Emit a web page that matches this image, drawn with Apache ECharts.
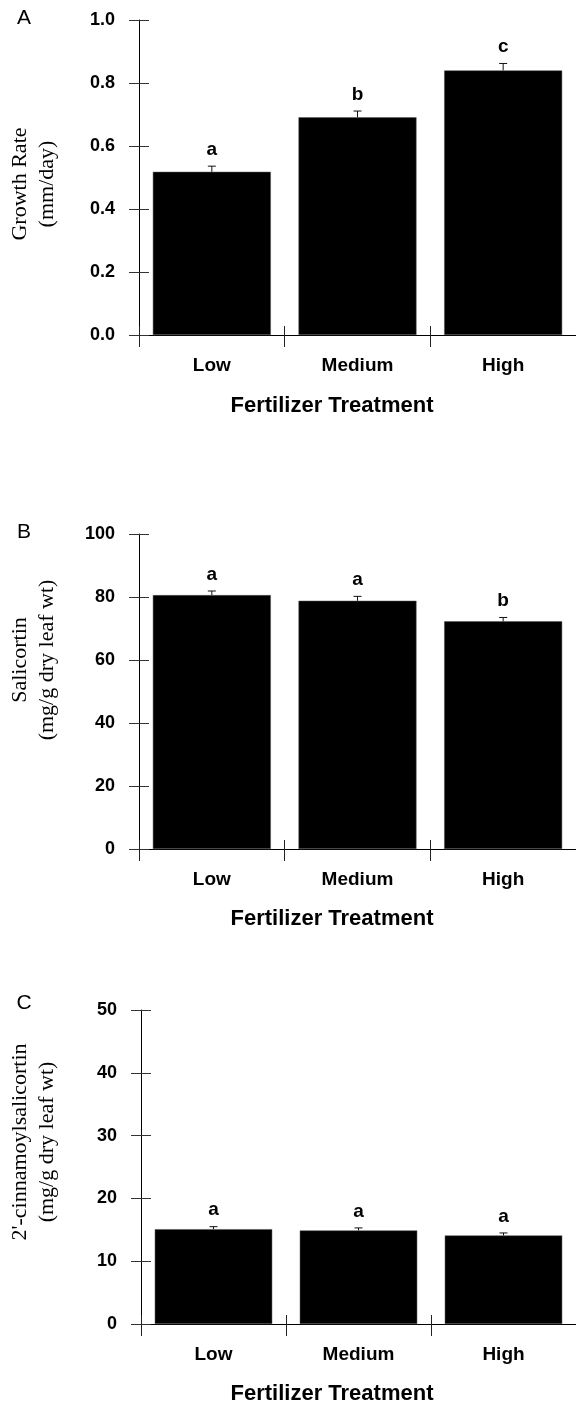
<!DOCTYPE html>
<html>
<head>
<meta charset="utf-8">
<script src="https://cdn.jsdelivr.net/npm/echarts@6/dist/echarts.min.js"></script>
<style>html,body{margin:0;padding:0;background:#fff}#c{width:576px;height:1407px}</style>
</head>
<body>
<div id="c"></div>
<script>
// ---- data ----
const categories = ['Low', 'Medium', 'High'];

const growthRate = [0.518, 0.691, 0.840];
const growthErr = [0.018, 0.020, 0.022];
const growthLetters = ['a', 'b', 'c'];
const growthTicks = [0, 0.2, 0.4, 0.6, 0.8, 1.0];

const salicortin = [80.6, 78.8, 72.3];
const salicortinErr = [1.3, 1.4, 1.2];
const salicortinLetters = ['a', 'a', 'b'];
const salicortinTicks = [0, 20, 40, 60, 80, 100];

const cinnamoyl = [15.1, 14.9, 14.1];
const cinnamoylErr = [0.4, 0.4, 0.4];
const cinnamoylLetters = ['a', 'a', 'a'];
const cinnamoylTicks = [0, 10, 20, 30, 40, 50];

const panelLabels = ['A', 'B', 'C'];
const yTitles = ['Growth Rate\n(mm/day)', 'Salicortin\n(mg/g dry leaf wt)', "2'-cinnamoylsalicortin\n(mg/g dry leaf wt)"];
const xTitle = 'Fertilizer Treatment';

// ---- layout ----
const SANS = '"Liberation Sans", Arial, Helvetica, sans-serif';
const SERIF = '"Liberation Serif", "Times New Roman", serif';
const grids = [
  { left: 139, top: 20, height: 315, right: -6 },
  { left: 139, top: 534, height: 315, right: -6 },
  { left: 141, top: 1010, height: 314, right: -3 }
];
const panels = [
  { vals: growthRate, err: growthErr, letters: growthLetters, ticks: growthTicks, dec: 1 },
  { vals: salicortin, err: salicortinErr, letters: salicortinLetters, ticks: salicortinTicks, dec: 0 },
  { vals: cinnamoyl, err: cinnamoylErr, letters: cinnamoylLetters, ticks: cinnamoylTicks, dec: 0 }
];

const xAxes = [], yAxes = [], series = [];
panels.forEach((p, i) => {
  const tmin = p.ticks[0], tmax = p.ticks[p.ticks.length - 1], tint = p.ticks[1] - p.ticks[0];
  xAxes.push({
    type: 'category', gridIndex: i, data: categories, position: 'bottom',
    axisLine: { lineStyle: { color: '#000', width: 1 } },
    axisTick: { show: true, length: 12, lineStyle: { color: '#222' } },
    axisLabel: { color: '#000', fontFamily: SANS, fontWeight: 'bold', fontSize: 19, margin: 21 }
  });
  xAxes.push({
    type: 'category', gridIndex: i, data: categories, position: 'bottom',
    axisLine: { show: false },
    axisTick: { show: true, inside: true, length: 9, lineStyle: { color: '#222' } },
    axisLabel: { show: false }
  });
  yAxes.push({
    type: 'value', gridIndex: i, min: tmin, max: tmax, interval: tint, position: 'left',
    splitLine: { show: false },
    axisLine: { show: true, lineStyle: { color: '#000', width: 1 } },
    axisTick: { show: true, length: 10, lineStyle: { color: '#333' } },
    axisLabel: {
      color: '#000', fontFamily: SANS, fontWeight: 'bold', fontSize: 18, margin: 24,
      formatter: v => v.toFixed(p.dec)
    }
  });
  yAxes.push({
    type: 'value', gridIndex: i, min: tmin, max: tmax, interval: tint, position: 'left',
    splitLine: { show: false },
    axisLine: { show: false },
    axisTick: { show: true, inside: true, length: 10, lineStyle: { color: '#333' } },
    axisLabel: { show: false }
  });
  series.push({
    type: 'bar', xAxisIndex: 2 * i, yAxisIndex: 2 * i,
    data: p.vals, barCategoryGap: '19%',
    itemStyle: { color: '#000', borderColor: '#555', borderWidth: 0.5 },
    silent: true, animation: false
  });
  series.push({
    type: 'custom', xAxisIndex: 2 * i, yAxisIndex: 2 * i,
    data: p.vals.map((v, k) => [k, v, p.err[k]]),
    encode: { x: 0, y: 1 },
    z: 5, silent: true, animation: false,
    renderItem: (params, api) => {
      const k = api.value(0), v = api.value(1), e = api.value(2);
      const base = api.coord([k, v]);
      const top = api.coord([k, v + e]);
      return {
        type: 'group', children: [
          { type: 'line', shape: { x1: base[0], y1: base[1], x2: top[0], y2: top[1] }, style: { stroke: '#111', lineWidth: 1 } },
          { type: 'line', shape: { x1: top[0] - 4, y1: top[1], x2: top[0] + 4, y2: top[1] }, style: { stroke: '#111', lineWidth: 1 } },
          { type: 'text', x: top[0], y: top[1] - 7, style: {
              text: p.letters[k], fill: '#000', font: 'bold 19px ' + SANS,
              textAlign: 'center', textVerticalAlign: 'bottom' } }
        ]
      };
    }
  });
});

// ---- text graphics ----
const xTitleY = [406, 919, 1394];
const yTitleY = [184, 660, 1142];
const panelY = [18, 532, 1003];
const graphic = [];
for (let i = 0; i < 3; i++) {
  graphic.push({ type: 'text', x: 24, y: panelY[i], style: {
    text: panelLabels[i], fill: '#000', font: '21px ' + SANS, textAlign: 'center', textVerticalAlign: 'middle' } });
  graphic.push({ type: 'text', x: 332, y: xTitleY[i], style: {
    text: xTitle, fill: '#000', font: 'bold 22px ' + SANS, textAlign: 'center', textVerticalAlign: 'middle' } });
  graphic.push({ type: 'text', x: 34, y: yTitleY[i], rotation: Math.PI / 2, style: {
    text: yTitles[i], fill: '#000', font: '22px ' + SERIF, lineHeight: 27, textAlign: 'center', textVerticalAlign: 'middle' } });
}

const chart = echarts.init(document.getElementById('c'), null, { renderer: 'canvas' });
chart.setOption({
  animation: false,
  backgroundColor: '#fff',
  grid: grids,
  xAxis: xAxes,
  yAxis: yAxes,
  series: series,
  graphic: graphic
});
</script>
</body>
</html>
